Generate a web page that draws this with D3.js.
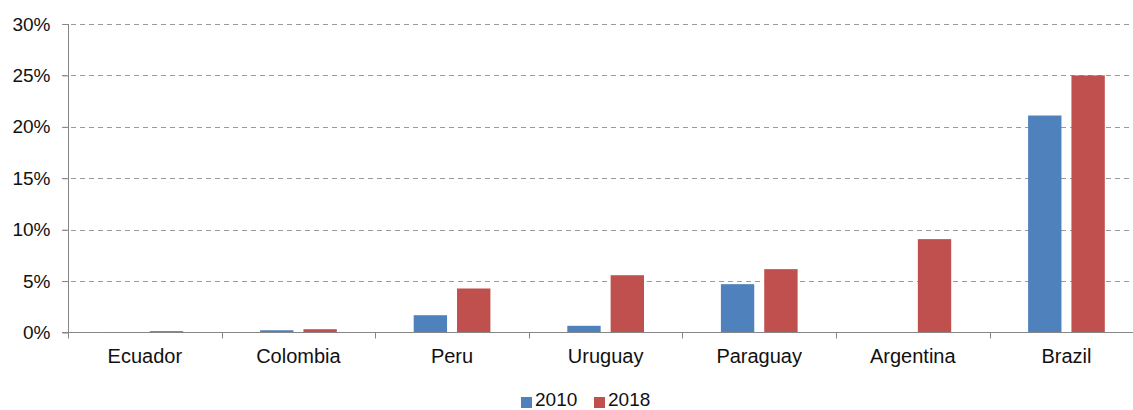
<!DOCTYPE html>
<html>
<head>
<meta charset="utf-8">
<script src="https://cdn.jsdelivr.net/npm/d3@7"></script>
<style>
  html, body { margin: 0; padding: 0; background: #fff; }
  svg { display: block; font-family: "Liberation Sans", Arial, sans-serif; }
</style>
</head>
<body>
<svg id="chart" width="1133" height="410"></svg>
<script>
// Share by country, 2010 vs 2018 (percent)
const countries = ["Ecuador", "Colombia", "Peru", "Uruguay", "Paraguay", "Argentina", "Brazil"];
const series = ["2010", "2018"];
const values2010 = [0.05, 0.22, 1.68, 0.65, 4.7, 0, 21.1];
const values2018 = [0.13, 0.32, 4.28, 5.57, 6.16, 9.08, 25.0];
const yTicks = [0, 5, 10, 15, 20, 25, 30];
const colors = ["#4F81BD", "#C0504D"];

const svg = d3.select("#chart");
const plotLeft = 68, plotRight = 1143.2, plotTop = 24, plotBottom = 332.5;

const x = d3.scaleBand().domain(countries).range([plotLeft, plotRight]).paddingInner(0).paddingOuter(0);
const xs = d3.scaleBand().domain(series).range([38.5, 115.2]).paddingInner(0.23);
const y = d3.scaleLinear().domain([0, 30]).range([plotBottom, plotTop]);

// horizontal dashed gridlines
svg.append("g")
  .selectAll("line")
  .data(yTicks.filter(t => t > 0))
  .join("line")
  .attr("x1", plotLeft - 6).attr("x2", plotRight)
  .attr("y1", d => Math.round(y(d)) + 0.5).attr("y2", d => Math.round(y(d)) + 0.5)
  .attr("stroke", "#9a9a9a").attr("stroke-width", 1)
  .attr("stroke-dasharray", "5,4");

// bars
const rows = countries.map((c, i) => ({ country: c, vals: [values2010[i], values2018[i]] }));
svg.append("g")
  .selectAll("g")
  .data(rows)
  .join("g")
  .attr("transform", d => `translate(${x(d.country)},0)`)
  .selectAll("rect")
  .data(d => d.vals.map((v, j) => ({ key: series[j], v, j })))
  .join("rect")
  .attr("x", d => xs(d.key))
  .attr("width", xs.bandwidth())
  .attr("y", d => y(d.v))
  .attr("height", d => y(0) - y(d.v))
  .attr("fill", d => colors[d.j]);

// y axis
const yAxis = d3.axisLeft(y).tickValues(yTicks).tickSize(6).tickPadding(12).tickFormat(d => d + "%");
const gy = svg.append("g").attr("transform", `translate(${plotLeft + 0.5},0)`).call(yAxis);
gy.select(".domain").attr("stroke", "#868686").attr("d", `M0,${plotTop}V${plotBottom}`);
gy.selectAll(".tick line").attr("stroke", "#868686");
gy.selectAll(".tick text").attr("font-size", 19).attr("fill", "#111").attr("font-family", "Liberation Sans, Arial, sans-serif");

// x axis with ticks at category boundaries
const gx = svg.append("g").attr("transform", `translate(0,${plotBottom})`);
gx.append("line").attr("x1", plotLeft - 6).attr("x2", plotRight).attr("y1", 0).attr("y2", 0)
  .attr("stroke", "#868686");
const bounds = countries.map(c => x(c)).concat([plotRight]);
gx.selectAll(".bt").data(bounds).join("line")
  .attr("x1", d => Math.round(d) + 0.5).attr("x2", d => Math.round(d) + 0.5)
  .attr("y1", 0).attr("y2", 6).attr("stroke", "#868686");
gx.selectAll(".lbl").data(countries).join("text")
  .attr("x", d => x(d) + x.bandwidth() / 2)
  .attr("y", 30)
  .attr("text-anchor", "middle")
  .attr("font-size", 20).attr("fill", "#111")
  .text(d => d);

// legend
const legend = svg.append("g");
const legendX = [521, 594];
series.forEach((s, i) => {
  legend.append("rect").attr("x", legendX[i]).attr("y", 397).attr("width", 11).attr("height", 11).attr("fill", colors[i]);
  legend.append("text").attr("x", legendX[i] + 14).attr("y", 406).attr("font-size", 19).attr("fill", "#111").text(s);
});
</script>
</body>
</html>
